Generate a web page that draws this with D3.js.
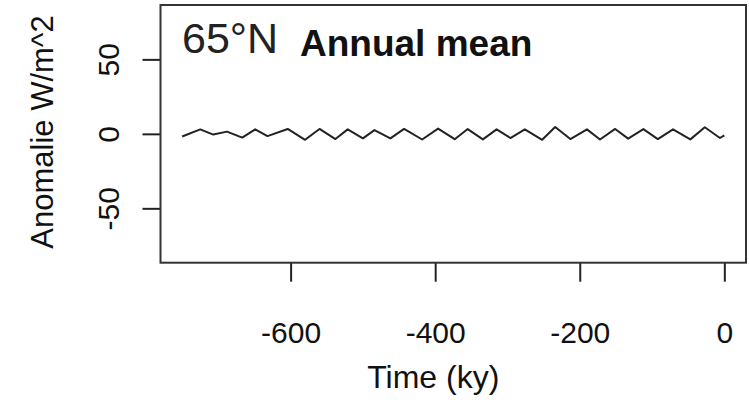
<!DOCTYPE html>
<html lang="en">
<head>
<meta charset="UTF-8">
<title>65°N Annual mean</title>
<script src="https://d3js.org/d3.v7.min.js"></script>
<style>
  body { margin: 0; background: #fff; }
  svg text { font-family: "Liberation Sans", Arial, sans-serif; fill: #111; }
</style>
</head>
<body>
<svg width="749" height="403"></svg>
<script>
    // insolation anomaly at 65N, annual mean
    const timeKy = [-750, -725, -707, -688, -667, -649, -632, -604, -580, -560, -538, -521, -500, -484,
        -462, -443, -418, -396, -373, -355, -334, -315, -296, -276, -252, -234, -213, -190, -172,
        -151, -133, -112, -92, -71, -47, -27, -6, 0];
    const anomaly = [-1.8, 3.0, -0.5, 1.5, -2.5, 3.0, -1.5, 3.3, -4.0, 3.3, -3.5, 3.0, -3.0, 2.5,
        -3.0, 3.3, -3.8, 3.5, -3.6, 3.2, -3.7, 3.0, -2.8, 3.0, -4.0, 4.6, -3.5, 3.0, -3.8,
        3.3, -3.2, 3.2, -3.5, 3.0, -3.7, 4.4, -2.8, -1.0];
    const xTicks = [-600, -400, -200, 0];
    const yTicks = [-50, 0, 50];

    const svg = d3.select("svg");
    const boxL = 160.5, boxR = 746, boxT = 5, boxB = 262.7;

    const x = d3.scaleLinear().domain([-780, 30]).range([boxL, boxR]);
    const y = d3.scaleLinear().domain([-86.5, 86.5]).range([boxB, boxT]);

    // x axis
    const gx = svg.append("g")
        .attr("transform", `translate(0,${boxB})`)
        .call(d3.axisBottom(x).tickValues(xTicks).tickSize(19).tickFormat(d3.format("d")));
    gx.select(".domain").remove();
    gx.selectAll(".tick line").attr("stroke", "#222").attr("stroke-width", 2);
    gx.selectAll(".tick text")
        .attr("y", 80).attr("dy", 0)
        .style("font-size", "30px")
        .text(d => d === 0 ? "0" : "-" + Math.abs(d));

    // y axis
    const gy = svg.append("g")
        .attr("transform", `translate(${boxL},0)`)
        .call(d3.axisLeft(y).tickValues(yTicks).tickSize(18));
    gy.select(".domain").remove();
    gy.selectAll(".tick line").attr("stroke", "#222").attr("stroke-width", 2);
    gy.selectAll(".tick text")
        .attr("x", 0).attr("dy", 0)
        .attr("text-anchor", "middle")
        .attr("transform", "translate(-42,0) rotate(-90)")
        .style("font-size", "30px")
        .text(d => d < 0 ? "-" + Math.abs(d) : d);

    // plot box
    svg.append("rect")
        .attr("x", boxL).attr("y", boxT)
        .attr("width", boxR - boxL).attr("height", boxB - boxT)
        .attr("fill", "none").attr("stroke", "#333").attr("stroke-width", 2);

    // the series
    const line = d3.line()
        .x((d, i) => x(timeKy[i]))
        .y(d => y(d));
    svg.append("path")
        .datum(anomaly)
        .attr("d", line)
        .attr("fill", "none")
        .attr("stroke", "#222")
        .attr("stroke-width", 2)
        .attr("stroke-linejoin", "round");

    // titles
    svg.append("text")
        .attr("x", (boxL + boxR) / 2 - 20).attr("y", 388)
        .attr("text-anchor", "middle")
        .style("font-size", "32px")
        .text("Time (ky)");

    svg.append("text")
        .attr("transform", "translate(53,132) rotate(-90)")
        .attr("text-anchor", "middle")
        .style("font-size", "31px")
        .text("Anomalie W/m^2");

    svg.append("text")
        .attr("x", 182).attr("y", 53)
        .style("font-size", "43px")
        .style("fill", "#222")
        .text("65°N");

    svg.append("text")
        .attr("x", 300).attr("y", 56)
        .style("font-size", "37px")
        .style("font-weight", "bold")
        .text("Annual mean");
</script>
</body>
</html>
